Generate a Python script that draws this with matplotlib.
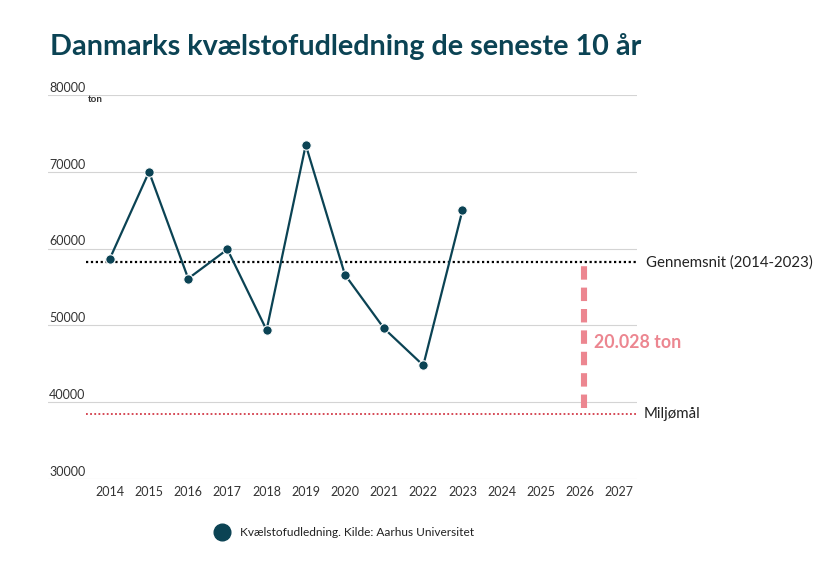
import matplotlib.pyplot as plt
from matplotlib.transforms import blended_transform_factory

# data
years = [2014, 2015, 2016, 2017, 2018, 2019, 2020, 2021, 2022, 2023]
udledning = [58700, 70000, 56100, 59900, 49400, 73500, 56600, 49600, 44800, 65000]
x_ticks = list(range(2014, 2028))
y_ticks = [30000, 40000, 50000, 60000, 70000, 80000]
gennemsnit = 58250
miljomaal = 38400
forskel_tekst = "20.028 ton"

TEAL = "#0b4354"
PINK = "#ec8690"
RED = "#d23a48"

plt.rcParams["font.family"] = ["Lato", "DejaVu Sans"]

fig = plt.figure(figsize=(8.37, 5.63), dpi=100)
ax = fig.add_axes([0.0573, 0.1492, 0.704, 0.682])

ax.set_xlim(2012.42, 2027.46)
ax.set_ylim(30000, 80000)

for v in y_ticks:
    ax.axhline(v, color="#d4d4d4", lw=0.8, zorder=0)
trans = blended_transform_factory(ax.transAxes, ax.transData)
for v in y_ticks:
    ax.text(0.002, v + 950, str(v), transform=trans, fontsize=9,
            color="#333333", va="center", ha="left")
ax.text(2013.45, 79450, "ton", fontsize=7, fontweight="bold",
        color="#333333", va="center", ha="left")

# reference lines
ax.hlines(gennemsnit, 2013.4, 2027.46, colors="black", lw=1.6,
          linestyles=(0, (1, 1.2)), zorder=2)
ax.hlines(miljomaal, 2013.4, 2027.46, colors=RED, lw=1.3,
          linestyles=(0, (1, 1.3)), zorder=2)
ax.text(1.015, gennemsnit, "Gennemsnit (2014-2023)", transform=trans,
        fontsize=10.8, color="#222222", va="center", ha="left")
ax.text(1.011, miljomaal + 100, "Miljømål", transform=trans,
        fontsize=10.8, color="#222222", va="center", ha="left")

# difference marker
ax.vlines(2026.1, miljomaal + 800, gennemsnit - 450, colors=PINK, lw=4.4,
          linestyles=(0, (2.2, 1.3)), capstyle="butt", zorder=3)
ax.text(2026.35, (gennemsnit + miljomaal) / 2 - 500, forskel_tekst,
        fontsize=12.8, fontweight="bold", color=PINK, va="center", ha="left")

ax.plot(years, udledning, color=TEAL, lw=1.6, marker="o", markersize=6.8,
        markeredgecolor="white", markeredgewidth=0.8, zorder=4)

ax.set_xticks(x_ticks)
ax.set_xticklabels([str(x) for x in x_ticks], fontsize=9, color="#333333")
ax.tick_params(axis="x", length=0, pad=5)
ax.set_yticks([])
for s in ax.spines.values():
    s.set_visible(False)

fig.text(50 / 837, 1 - 46 / 563, "Danmarks kvælstofudledning de seneste 10 år",
         fontsize=20.7, fontweight="bold", color=TEAL, va="center", ha="left")

# legend
fig.lines.append(plt.Line2D([222 / 837], [1 - 532 / 563], marker="o",
                            markersize=12, color=TEAL, transform=fig.transFigure))
fig.text(240 / 837, 1 - 532 / 563, "Kvælstofudledning. Kilde: Aarhus Universitet",
         fontsize=8.6, color="#222222", va="center", ha="left")

fig.savefig("out.png", dpi=100, facecolor="white")
